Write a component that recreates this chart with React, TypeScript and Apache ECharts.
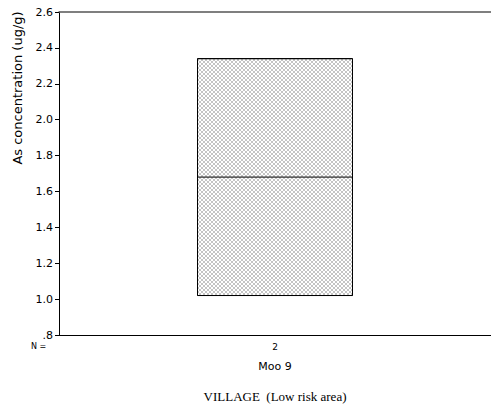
import React, { useEffect, useRef } from "react";
import * as echarts from "echarts";

// Box summary per village: [min, Q1, median, Q3, max]
const categories = ["Moo 9"];
const counts = [2];
const boxValues = [[1.02, 1.02, 1.68, 2.34, 2.34]];
const yMin = 0.8;
const yMax = 2.6;
const yStep = 0.2;

// Small crosshatch tile used as the box fill
function hatchPattern(): string {
  const c = document.createElement("canvas");
  c.width = 4;
  c.height = 4;
  const ctx = c.getContext("2d")!;
  ctx.fillStyle = "#c4c4c4";
  ctx.fillRect(0, 0, 4, 4);
  ctx.fillStyle = "#ffffff";
  for (let i = 0; i < 4; i++) {
    ctx.fillRect(i, i, 1, 1);
    ctx.fillRect(3 - i, i, 1, 1);
  }
  return c.toDataURL();
}

export default function App() {
  const ref = useRef<HTMLDivElement>(null);

  useEffect(() => {
    if (!ref.current) return;
    const chart = echarts.init(ref.current, undefined, { renderer: "svg" });
    const sans = "DejaVu Sans";
    chart.setOption({
      animation: false,
      grid: { left: 59, right: -14, top: 12, bottom: 73 },
      xAxis: [
        {
          type: "category",
          data: categories,
          axisLine: { lineStyle: { color: "#000", width: 1 } },
          axisTick: { alignWithLabel: true, length: 3, lineStyle: { color: "#000" } },
          axisLabel: {
            margin: 3,
            formatter: (v: string, i: number) => `{n|${counts[i]}}\n{c|${v}}`,
            rich: {
              n: { fontFamily: sans, fontSize: 9, color: "#000", lineHeight: 18 },
              c: { fontFamily: sans, fontSize: 11, color: "#000", lineHeight: 20 },
            },
          },
          name: "VILLAGE  (Low risk area)",
          nameLocation: "middle",
          nameGap: 55,
          nameTextStyle: {
            fontFamily: "Liberation Serif",
            fontSize: 13,
            color: "#000",
          },
        },
        {
          type: "category",
          position: "top",
          data: categories,
          axisLine: { lineStyle: { color: "#555", width: 1.5 } },
          axisTick: { show: false },
          axisLabel: { show: false },
        },
      ],
      yAxis: {
        type: "value",
        min: yMin,
        max: yMax,
        interval: yStep,
        splitLine: { show: false },
        axisLine: { show: true, lineStyle: { color: "#000", width: 1 } },
        axisTick: { show: true, length: 4, lineStyle: { color: "#000" } },
        axisLabel: {
          fontFamily: sans,
          fontSize: 11,
          color: "#000",
          margin: 6,
          formatter: (v: number) => v.toFixed(1).replace(/^0/, ""),
        },
      },
      graphic: [
        {
          type: "text",
          x: 17,
          y: 88,
          rotation: Math.PI / 2,
          style: {
            text: "As concentration (ug/g)",
            fontFamily: sans,
            fontSize: 13,
            fill: "#000",
            align: "center",
            verticalAlign: "middle",
          },
        },
        {
          type: "text",
          x: 31,
          y: 342,
          style: {
            text: "N =",
            fontFamily: sans,
            fontSize: 8,
            fill: "#000",
          },
        },
      ],
      series: [
        {
          type: "boxplot",
          data: boxValues,
          boxWidth: [155, 155],
          itemStyle: {
            color: { image: hatchPattern(), repeat: "repeat" },
            borderColor: "#000",
            borderWidth: 1,
          },
        },
      ],
    });
    return () => chart.dispose();
  }, []);

  return <div ref={ref} style={{ width: 491, height: 408, position: "absolute", left: 0, top: 0 }} />;
}
